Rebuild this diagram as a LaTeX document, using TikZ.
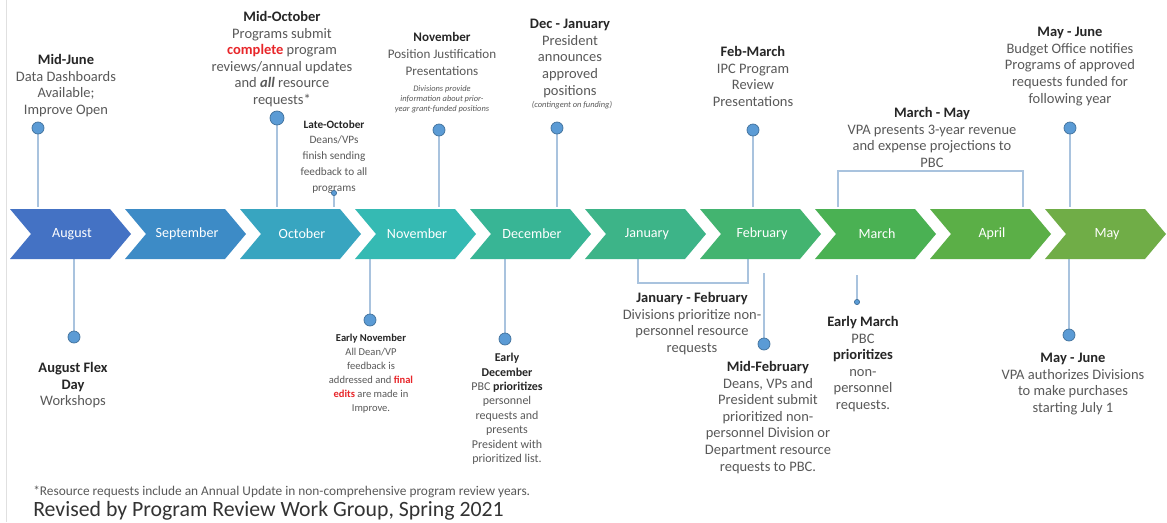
\documentclass[tikz,border=0pt]{standalone}
\usepackage{fontspec}
\setmainfont{Carlito}
\usepackage{tikz}
\pgfdeclarelayer{bg}
\pgfsetlayers{bg,main}
\definecolor{dotblue}{HTML}{5B9BD5}
\definecolor{dotedge}{HTML}{41719C}
\definecolor{stemblue}{HTML}{A9C3DE}
\definecolor{txtgray}{HTML}{595959}
\definecolor{ttlgray}{HTML}{262626}
\definecolor{hired}{HTML}{E8262A}
\definecolor{cAug}{HTML}{4472C4}
\definecolor{cSep}{HTML}{3D8BC6}
\definecolor{cOct}{HTML}{38A5C0}
\definecolor{cNov}{HTML}{35BAB3}
\definecolor{cDec}{HTML}{38B595}
\definecolor{cJan}{HTML}{3DB488}
\definecolor{cFeb}{HTML}{43B470}
\definecolor{cMar}{HTML}{4AB153}
\definecolor{cApr}{HTML}{5BAF47}
\definecolor{cMay}{HTML}{70AD47}
\tikzset{
    month/.style={text=white, inner sep=0mm, font=\fontsize{10}{12}\selectfont},
    evt/.style={align=center, anchor=north, inner sep=0mm, text=txtgray, font=\fontsize{10.3}{11.8}\selectfont},
    evtsmall/.style={evt, font=\fontsize{8}{11.2}\selectfont},
    note/.style={evt, font=\fontsize{6}{7.1}\selectfont\itshape},
    dot/.style={circle, inner sep=0mm, fill=dotblue, draw=dotedge, line width=0.5pt, minimum size=3mm},
    tinydot/.style={dot, minimum size=1.3mm},
    stem/.style={draw=stemblue, line width=0.8pt}
}
\newcommand{\ttl}[1]{{\color{ttlgray}\bfseries #1}}
\newcommand{\hot}[1]{{\color{hired}\bfseries #1}}

\begin{document}
\begin{tikzpicture}[x=0.025cm, y=-0.025cm]
    \useasboundingbox (0,0) rectangle (1167,522);
    \begin{pgfonlayer}{bg}
        \fill[white] (0,0) rectangle (1167,522);
        \draw[black!12, line width=0.6pt] (6,0) -- (6,522);
    \end{pgfonlayer}

    % month band
    \foreach \m/\c [count=\i from 0] in {August/cAug, September/cSep, October/cOct, November/cNov, December/cDec, January/cJan, February/cFeb, March/cMar, April/cApr, May/cMay} {
        \pgfmathsetmacro\L{10+115*\i}
        \fill[\c] (\L,209) -- ++(100,0) -- ++(21,25) -- ++(-21,25) -- ++(-100,0) -- ++(21,-25) -- cycle;
        \node (\m) [month] at (\L+62,234) {\m};
    }
    \coordinate (bandtop) at (0,207);
    \coordinate (bandbot) at (0,259);

    % above the band
    \node (tMidJune) [evt] at (66,54) {\ttl{Mid-June}\\Data Dashboards\\Available;\\Improve Open};
    \node (dMidJune) [dot] at (38,128) {};
    \node (tMidOct) [evt] at (282,11) {\ttl{Mid-October}\\Programs submit\\\hot{complete} program\\reviews/annual updates\\and \textbf{\textit{all}} resource\\requests*};
    \node (dMidOct) [dot, minimum size=3.5mm] at (277,118) {};
    \node (tLateOct) [evtsmall] at (334,120) {\ttl{Late-October}\\Deans/VPs\\finish sending\\feedback to all\\programs};
    \node (dLateOct) [tinydot] at (334,193) {};
    \node (tNov) [evt, font=\fontsize{9.3}{12.1}\selectfont] at (442,32) {\ttl{November}\\Position Justification\\Presentations};
    \node (nNov) [note] at (442,85) {Divisions provide\\information about prior-\\year grant-funded positions};
    \node (dNov) [dot] at (439,130) {};
    \node (tDecJan) [evt] at (570,19) {\ttl{Dec - January}\\President\\announces\\approved\\positions};
    \node (nDecJan) [note] at (572,101) {(contingent on funding)};
    \node (dDecJan) [dot] at (557,128) {};
    \node (tFebMar) [evt] at (753,46) {\ttl{Feb-March}\\IPC Program\\Review\\Presentations};
    \node (dFebMar) [dot] at (753,130) {};
    \node (tMarMay) [evt] at (932,107) {\ttl{March - May}\\VPA presents 3-year revenue\\and expense projections to\\PBC};
    \coordinate (mmL) at (838,171);
    \coordinate (mmR) at (1023,171);
    \node (tMayJuneA) [evt] at (1070,27) {\ttl{May - June}\\Budget Office notifies\\Programs of approved\\requests funded for\\following year};
    \node (dMayJuneA) [dot] at (1070,128) {};

    % below the band
    \node (dAugFlex) [dot] at (74,337) {};
    \node (tAugFlex) [evt] at (73,362) {\ttl{August Flex}\\\ttl{Day}\\Workshops};
    \node (dEarlyNov) [dot] at (370,320) {};
    \node (tEarlyNov) [evt, font=\fontsize{7.5}{10}\selectfont] at (371,333.5) {\ttl{Early November}\\All Dean/VP\\feedback is\\addressed and \hot{final}\\\hot{edits} are made in\\Improve.};
    \node (dEarlyDec) [dot] at (505,339) {};
    \node (tEarlyDec) [evt, font=\fontsize{8.5}{10.25}\selectfont] at (507,353) {\ttl{Early}\\\ttl{December}\\PBC \ttl{prioritizes}\\personnel\\requests and\\presents\\President with\\prioritized list.};
    \coordinate (jfL) at (638,283);
    \coordinate (jfR) at (748,283);
    \node (tJanFeb) [evt] at (692,292) {\ttl{January - February}\\Divisions prioritize non-\\personnel resource\\requests};
    \coordinate (mfTop) at (764,273);
    \node (dMidFeb) [dot] at (764,344) {};
    \node (tMidFeb) [evt] at (768,361) {\ttl{Mid-February}\\Deans, VPs and\\President submit\\prioritized non-\\personnel Division or\\Department resource\\requests to PBC.};
    \coordinate (emTop) at (857,275);
    \node (dEarlyMar) [tinydot] at (857,302) {};
    \node (tEarlyMar) [evt] at (863,316) {\ttl{Early March}\\PBC\\\ttl{prioritizes}\\non-\\personnel\\requests.};
    \node (dMayJuneB) [dot] at (1069,335) {};
    \node (tMayJuneB) [evt] at (1073,353) {\ttl{May - June}\\VPA authorizes Divisions\\to make purchases\\starting July 1};

    \node (foot) [anchor=base west, inner sep=0mm, text=txtgray, font=\fontsize{9.5}{11}\selectfont] at (33,495) {*Resource requests include an Annual Update in non-comprehensive program review years.};
    \node (revised) [anchor=base west, inner sep=0mm, text=black!80, font=\fontsize{15.5}{18}\selectfont] at (33,516) {Revised by Program Review Work Group, Spring 2021};

    \begin{pgfonlayer}{bg}
        \draw[stem] (dMidJune) edge (dMidJune |- bandtop);
        \draw[stem] (dMidOct) edge (dMidOct |- bandtop);
        \draw[stem] (dLateOct) edge (dLateOct |- bandtop);
        \draw[stem] (dNov) edge (dNov |- bandtop);
        \draw[stem] (dDecJan) edge (dDecJan |- bandtop);
        \draw[stem] (dFebMar) edge (dFebMar |- bandtop);
        \draw[stem] (dMayJuneA) edge (dMayJuneA |- bandtop);
        \draw[stem] (mmL |- bandtop) -- (mmL) -- (mmR) -- (mmR |- bandtop);

        \draw[stem] (dAugFlex) edge (dAugFlex |- bandbot);
        \draw[stem] (dEarlyNov) edge (dEarlyNov |- bandbot);
        \draw[stem] (dEarlyDec) edge (dEarlyDec |- bandbot);
        \draw[stem] (jfL |- bandbot) -- (jfL) -- (jfR) -- (jfR |- bandbot);
        \draw[stem] (dMidFeb) edge (mfTop);
        \draw[stem] (dEarlyMar) edge (emTop);
        \draw[stem] (dMayJuneB) edge (dMayJuneB |- bandbot);
    \end{pgfonlayer}
\end{tikzpicture}
\end{document}
